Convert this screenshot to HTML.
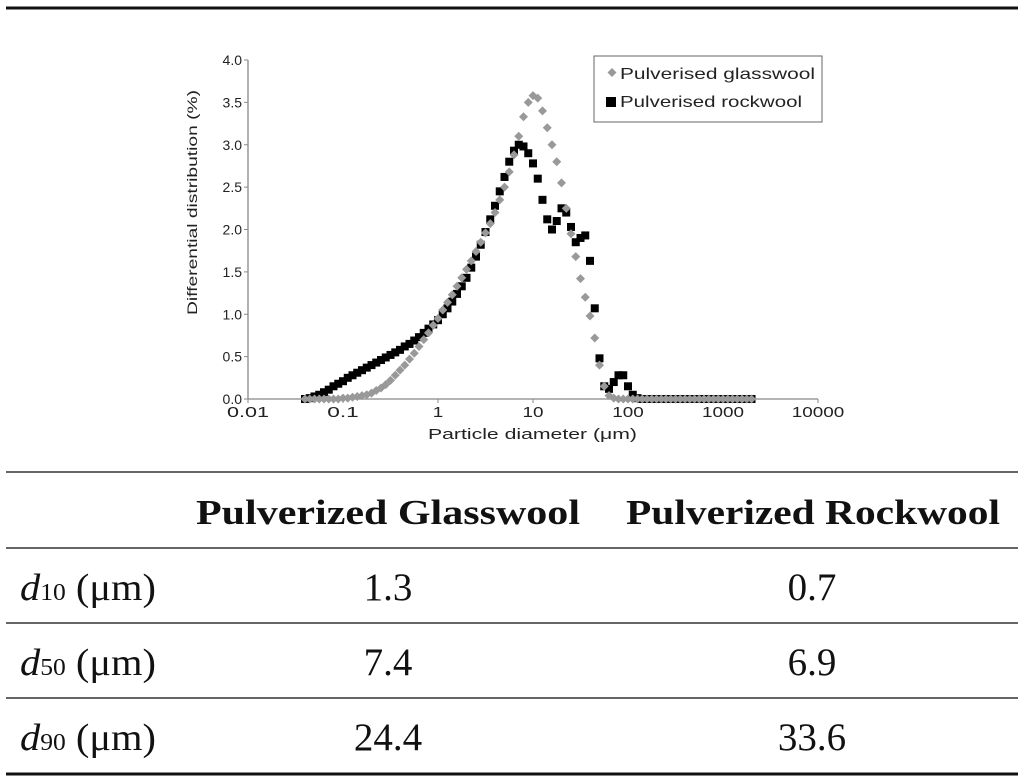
<!DOCTYPE html>
<html><head><meta charset="utf-8"><style>
html,body{margin:0;padding:0;background:#fff;}
svg{display:block;font-family:"Liberation Sans",sans-serif;}
</style></head><body>
<svg id="root" width="1024" height="784" viewBox="0 0 1024 784">
<line x1="6" y1="8" x2="1018" y2="8" stroke="#111" stroke-width="3"/>
<g id="chart"></g>
<g fill="#111" font-family="Liberation Serif, serif">
<line x1="6" y1="472" x2="1018" y2="472" stroke="#333" stroke-width="1.5"/>
<line x1="6" y1="548" x2="1018" y2="548" stroke="#333" stroke-width="1.5"/>
<line x1="6" y1="623" x2="1018" y2="623" stroke="#333" stroke-width="1.5"/>
<line x1="6" y1="698" x2="1018" y2="698" stroke="#333" stroke-width="1.5"/>
<line x1="6" y1="774" x2="1018" y2="774" stroke="#111" stroke-width="3"/>
<text x="196" y="524" font-size="35" font-weight="bold" textLength="384" lengthAdjust="spacingAndGlyphs">Pulverized Glasswool</text>
<text x="626" y="524" font-size="35" font-weight="bold" textLength="374" lengthAdjust="spacingAndGlyphs">Pulverized Rockwool</text>
<text x="20" y="600" font-size="38" textLength="136" lengthAdjust="spacingAndGlyphs"><tspan font-style="italic">d</tspan><tspan font-size="24">10</tspan> (μm)</text>
<text x="20" y="675" font-size="38" textLength="136" lengthAdjust="spacingAndGlyphs"><tspan font-style="italic">d</tspan><tspan font-size="24">50</tspan> (μm)</text>
<text x="20" y="750" font-size="38" textLength="136" lengthAdjust="spacingAndGlyphs"><tspan font-style="italic">d</tspan><tspan font-size="24">90</tspan> (μm)</text>
<text x="388" y="600" font-size="39" text-anchor="middle">1.3</text>
<text x="812" y="600" font-size="39" text-anchor="middle">0.7</text>
<text x="388" y="675" font-size="39" text-anchor="middle">7.4</text>
<text x="812" y="675" font-size="39" text-anchor="middle">6.9</text>
<text x="388" y="750" font-size="39" text-anchor="middle">24.4</text>
<text x="812" y="750" font-size="39" text-anchor="middle">33.6</text>
</g>
</svg>
<script>
// log10 of particle diameter (µm) for each measured bin
const logDiameters = [-1.4,-1.35,-1.3,-1.25,-1.2,-1.15,-1.1,-1.05,-1.0,-0.95,-0.9,-0.85,-0.8,-0.75,-0.7,-0.65,-0.6,-0.55,-0.5,-0.45,-0.4,-0.35,-0.3,-0.25,-0.2,-0.15,-0.1,-0.05,0,0.05,0.1,0.15,0.2,0.25,0.3,0.35,0.4,0.45,0.5,0.55,0.6,0.65,0.7,0.75,0.8,0.85,0.9,0.95,1.0,1.05,1.1,1.15,1.2,1.25,1.3,1.35,1.4,1.45,1.5,1.55,1.6,1.65,1.7,1.75,1.8,1.85,1.9,1.95,2.0,2.05,2.1,2.15,2.2,2.25,2.3,2.35,2.4,2.45,2.5,2.55,2.6,2.65,2.7,2.75,2.8,2.85,2.9,2.95,3.0,3.05,3.1,3.15,3.2,3.25,3.3];
const glasswool = [0,0,0,0,0,0,0,0,0.01,0.01,0.02,0.03,0.04,0.05,0.07,0.1,0.13,0.17,0.22,0.28,0.34,0.4,0.47,0.54,0.62,0.7,0.78,0.87,0.95,1.05,1.14,1.23,1.33,1.43,1.53,1.63,1.74,1.85,1.96,2.07,2.2,2.35,2.5,2.68,2.88,3.1,3.33,3.5,3.58,3.55,3.4,3.2,3.0,2.8,2.55,2.25,1.95,1.68,1.42,1.2,0.98,0.72,0.4,0.15,0.04,0.01,0,0,0,0,0,0,0,0,0,0,0,0,0,0,0,0,0,0,0,0,0,0,0,0,0,0,0,0,0];
const rockwool = [0,0.01,0.03,0.05,0.08,0.11,0.15,0.18,0.21,0.25,0.28,0.31,0.34,0.37,0.4,0.43,0.46,0.49,0.52,0.55,0.58,0.62,0.65,0.69,0.73,0.78,0.83,0.88,0.93,1.0,1.07,1.15,1.24,1.33,1.43,1.55,1.68,1.82,1.97,2.12,2.28,2.45,2.62,2.8,2.93,3.0,2.98,2.9,2.78,2.6,2.35,2.12,2.0,2.1,2.25,2.2,2.03,1.85,1.9,1.93,1.63,1.07,0.48,0.15,0.12,0.2,0.28,0.28,0.15,0.05,0.01,0,0,0,0,0,0,0,0,0,0,0,0,0,0,0,0,0,0,0,0,0,0,0,0];
const xTickLabels = ["0.01","0.1","1","10","100","1000","10000"];
const xTickLogs = [-2,-1,0,1,2,3,4];
const yTicks = [0,0.5,1,1.5,2,2.5,3,3.5,4];
const yTickLabels = ["0.0","0.5","1.0","1.5","2.0","2.5","3.0","3.5","4.0"];

const NS="http://www.w3.org/2000/svg";
const chart=document.getElementById('chart');
const X0=248, DEC=95, Y0=399, YU=84.75;
const xs=l=>X0+(l+2)*DEC;
const ys=v=>Y0-v*YU;
function mk(tag,attrs,parent){const e=document.createElementNS(NS,tag);for(const k in attrs)e.setAttribute(k,attrs[k]);(parent||chart).appendChild(e);return e;}

let ax=mk('line',{x1:X0,y1:ys(4),x2:X0,y2:Y0,stroke:'#888','stroke-width':1.3});


let bx=mk('line',{x1:X0,y1:Y0,x2:xs(4),y2:Y0,stroke:'#888','stroke-width':1.3});



yTicks.forEach((v,i)=>{
  const t=mk('line',{x1:X0-4,y1:ys(v),x2:X0,y2:ys(v),stroke:'#888'});
  
  
  const tx=mk('text',{x:X0-6,y:ys(v)+5,'font-size':14,'text-anchor':'end',fill:'#222'});
  tx.textContent=yTickLabels[i];
  
  
});
xTickLogs.forEach((l,i)=>{
  const t=mk('line',{x1:xs(l),y1:Y0,x2:xs(l),y2:Y0+4,stroke:'#888'});
  
  
  const s=xTickLabels[i];
  const tx=mk('text',{x:xs(l),y:Y0+18,'font-size':15,'text-anchor':'middle',fill:'#222',textLength:s.length*10.5,lengthAdjust:'spacingAndGlyphs'});
  tx.textContent=s;
  
  
});
let xt=mk('text',{x:428,y:439,'font-size':15,fill:'#222',textLength:209,lengthAdjust:'spacingAndGlyphs'});
xt.textContent='Particle diameter (μm)';


let yt=mk('text',{x:0,y:0,'font-size':14,fill:'#222',textLength:225,lengthAdjust:'spacingAndGlyphs',transform:'translate(197 315) rotate(-90)'});
yt.textContent='Differential distribution (%)';



const gR=mk('g',{});


const gG=mk('g',{});


rockwool.forEach((v,i)=>{
  const x=xs(logDiameters[i]),y=ys(v);
  const r=mk('rect',{x:x-4,y:y-4,width:8,height:8,fill:'#000'},gR);
  
  
});
glasswool.forEach((v,i)=>{
  const x=xs(logDiameters[i]),y=ys(v);
  const p=mk('polygon',{points:`${x},${y-4.5} ${x+4.5},${y} ${x},${y+4.5} ${x-4.5},${y}`,fill:'#999'},gG);
  
  
});

const lg=mk('g',{});


mk('rect',{x:594,y:56,width:228,height:66,fill:'#fff',stroke:'#666','stroke-width':1},lg);
mk('polygon',{points:'612,68 616.5,72.5 612,77 607.5,72.5',fill:'#999'},lg);
let l1=mk('text',{x:620,y:79,'font-size':16,fill:'#222',textLength:195,lengthAdjust:'spacingAndGlyphs'},lg);
l1.textContent='Pulverised glasswool';


mk('rect',{x:606,y:97,width:10,height:10,fill:'#000'},lg);
let l2=mk('text',{x:620,y:107,'font-size':16,fill:'#222',textLength:182,lengthAdjust:'spacingAndGlyphs'},lg);
l2.textContent='Pulverised rockwool';


</script>
</body></html>
